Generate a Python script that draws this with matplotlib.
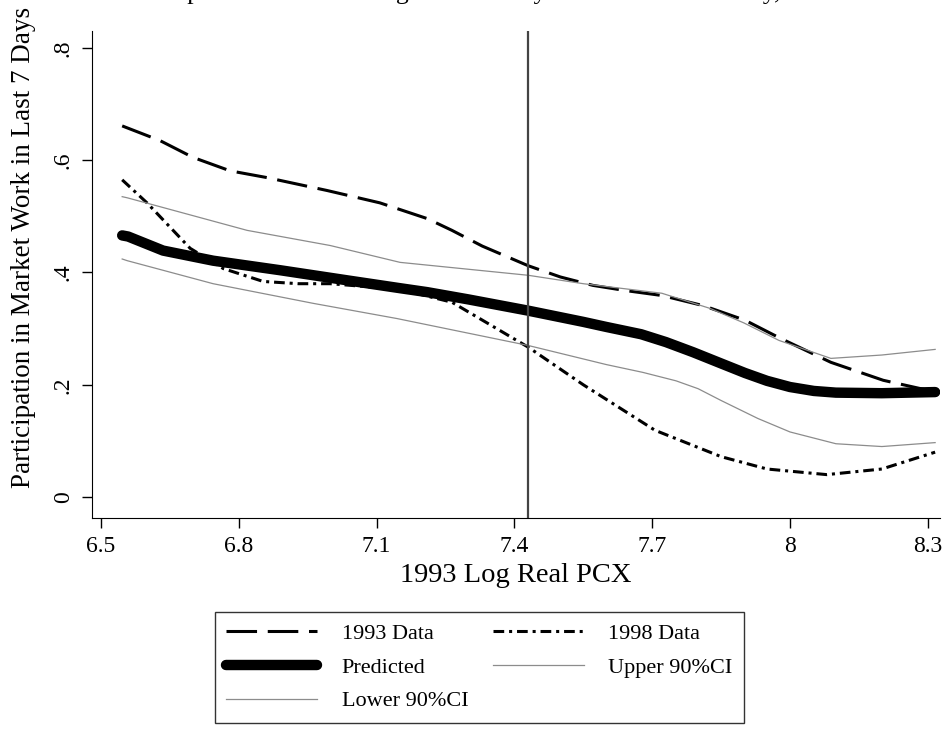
import matplotlib
matplotlib.use("Agg")
import matplotlib.pyplot as plt

plt.rcParams['font.family'] = ['Liberation Serif', 'DejaVu Serif']

# 1993 data (nonparametric fit)
x93 = [6.546, 6.628, 6.70, 6.781, 6.861, 6.992, 7.107, 7.21, 7.264, 7.33, 7.43,
       7.50, 7.571, 7.64, 7.721, 7.811, 7.902, 7.976, 8.089, 8.203, 8.307, 8.316]
y93 = [0.661, 0.635, 0.605, 0.581, 0.569, 0.546, 0.524, 0.496, 0.475, 0.447, 0.412,
       0.392, 0.377, 0.368, 0.359, 0.341, 0.315, 0.284, 0.240, 0.208, 0.189, 0.188]

# 1998 data
x98 = [6.546, 6.60, 6.694, 6.766, 6.853, 6.93, 6.999, 7.15, 7.264, 7.43, 7.55,
       7.706, 7.85, 7.95, 8.08, 8.20, 8.316]
y98 = [0.565, 0.524, 0.443, 0.407, 0.384, 0.380, 0.380, 0.370, 0.347, 0.267, 0.200,
       0.119, 0.072, 0.050, 0.040, 0.050, 0.080]

# predicted participation and 90% CI
xpr = [6.546, 6.559, 6.635, 6.744, 6.89, 7.036, 7.151, 7.21, 7.30, 7.43, 7.55,
       7.60, 7.676, 7.73, 7.789, 7.85, 7.902, 7.95, 8.0, 8.052, 8.10, 8.2, 8.316]
ypr = [0.466, 0.464, 0.439, 0.421, 0.404, 0.386, 0.372, 0.365, 0.352, 0.332, 0.312,
       0.303, 0.290, 0.276, 0.258, 0.238, 0.221, 0.207, 0.196, 0.189, 0.186, 0.185, 0.187]

xup = [6.546, 6.557, 6.818, 6.999, 7.151, 7.43, 7.55, 7.721, 7.826, 7.90, 7.976,
       8.089, 8.20, 8.316]
yup = [0.535, 0.533, 0.475, 0.448, 0.418, 0.395, 0.380, 0.363, 0.336, 0.310, 0.279,
       0.247, 0.253, 0.263]

xlo = [6.546, 6.557, 6.744, 6.962, 7.144, 7.43, 7.60, 7.68, 7.752, 7.80, 7.85, 7.93,
       8.0, 8.10, 8.20, 8.316]
ylo = [0.424, 0.421, 0.380, 0.345, 0.318, 0.270, 0.236, 0.222, 0.207, 0.193, 0.172,
       0.140, 0.116, 0.095, 0.090, 0.097]

cutoff = 7.43

xticks = [6.5, 6.8, 7.1, 7.4, 7.7, 8.0, 8.3]
xticklabels = ["6.5", "6.8", "7.1", "7.4", "7.7", "8", "8.3"]
yticks = [0, 0.2, 0.4, 0.6, 0.8]
yticklabels = ["0", ".2", ".4", ".6", ".8"]

fig = plt.figure(figsize=(9.46, 7.35), dpi=100)
ax = fig.add_axes([0.0973, 0.2952, 0.8964, 0.6626])

ci_col = "#8c8c8c"
l93, = ax.plot(x93, y93, color="black", lw=2.2, dashes=(10, 3.5), label="1993 Data")
l98, = ax.plot(x98, y98, color="black", lw=2.2, dashes=(3.5, 1.6, 1, 1.6), label="1998 Data")
lup, = ax.plot(xup, yup, color=ci_col, lw=0.9, label="Upper 90%CI")
llo, = ax.plot(xlo, ylo, color=ci_col, lw=0.9, label="Lower 90%CI")
lpr, = ax.plot(xpr, ypr, color="black", lw=7.5, solid_capstyle="round",
               solid_joinstyle="round", label="Predicted")
ax.axvline(cutoff, color="#444444", lw=1.6)

ax.set_xlim(6.4804, 8.3267)
ax.set_ylim(-0.0373, 0.830)
ax.set_xticks(xticks)
ax.set_xticklabels(xticklabels)
ax.set_yticks(yticks)
ax.set_yticklabels(yticklabels, rotation=90, va="center")
ax.tick_params(direction="out", length=7, width=1, labelsize=17, pad=6)
for s in ["top", "right"]:
    ax.spines[s].set_visible(False)
ax.set_xlabel("1993 Log Real PCX", fontsize=20.5, labelpad=4)
ax.set_ylabel("Participation in Market Work in Last 7 Days", fontsize=19.5)
ax.yaxis.set_label_coords(-0.066, 0.555)

# title clipped by the top edge (only descenders visible)
fig.text(120 / 946, 1.0 + 1.0 / 735, "Participation in Work Using 1993 Survey Data for Each Family, Girls",
         ha="left", va="baseline", fontsize=18.5)

handles = [l93, lpr, llo, l98, lup]
leg = fig.legend(handles=handles, labels=[h.get_label() for h in handles], ncol=2,
                 loc="upper left", bbox_to_anchor=(215 / 946, 1 - 612 / 735),
                 frameon=True, fancybox=False, edgecolor="black", fontsize=16,
                 handlelength=4.1, handletextpad=1.1, columnspacing=1.1,
                 labelspacing=0.6, borderpad=0.5, borderaxespad=0)
leg.get_frame().set_linewidth(1.0)

fig.savefig("out.png", dpi=100)
